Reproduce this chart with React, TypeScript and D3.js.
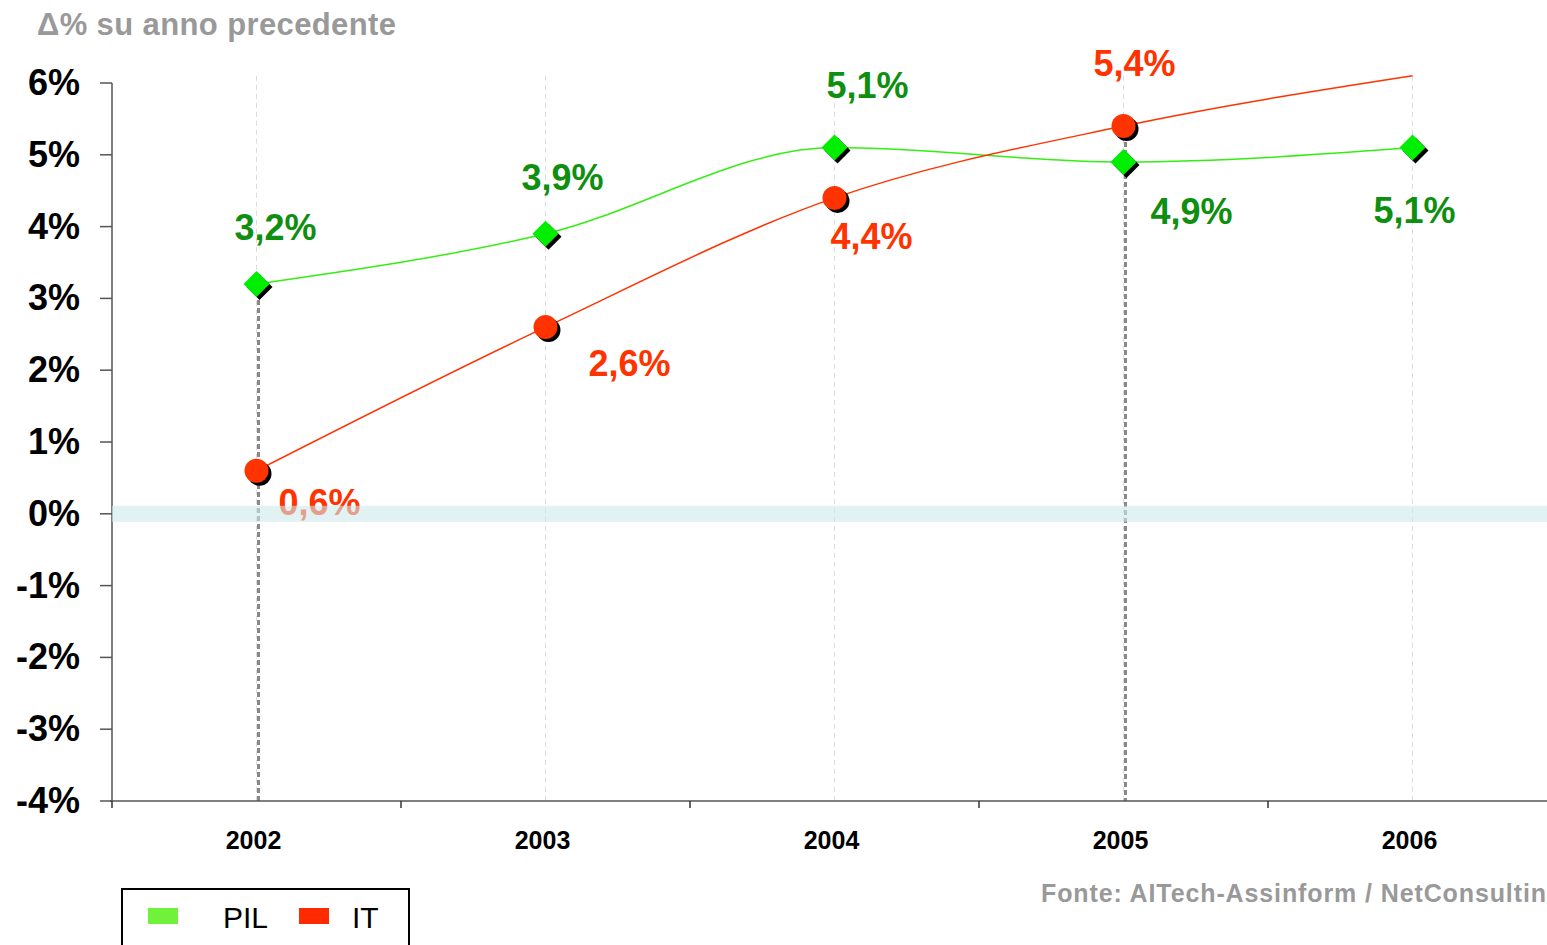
import React from "react";
import * as d3 from "d3";

// data
const years = ["2002", "2003", "2004", "2005", "2006"];
const pilValues = [3.2, 3.9, 5.1, 4.9, 5.1];
const itValues = [0.6, 2.6, 4.4, 5.4, 6.1];
const itShown = [true, true, true, true, false]; // 2006 IT has no marker / label
const yTicks = [6, 5, 4, 3, 2, 1, 0, -1, -2, -3, -4];
const dropYears = ["2002", "2005"];

// label offsets from the point (pixels)
const pilLabelOffsets = [[19, -44], [17, -44], [33, -50], [68, 62], [2, 75]];
const itLabelOffsets = [[63, 44], [84, 49], [37, 51], [11, -50], [0, 0]];

const W = 1547;
const H = 945;
const FONT = "'Liberation Sans', Arial, Helvetica, sans-serif";
const GREEN_LINE = "#33ee11";
const GREEN_MARK = "#00ee00";
const GREEN_TEXT = "#0f8f0f";
const RED = "#ff3300";

const fmt = (v: number) => v.toFixed(1).replace(".", ",") + "%";

export default function App() {
  const x = d3.scaleBand().domain(years).range([112, 1557]);
  const y = d3.scaleLinear().domain([-4, 6]).range([801, 83]);
  const cx = (yr: string) => (x(yr) as number) + x.bandwidth() / 2;

  const line = d3
    .line<number>()
    .x((_, i) => cx(years[i]))
    .y((d) => y(d))
    .curve(d3.curveMonotoneX);

  const diamond = (px: number, py: number, r: number) =>
    `M${px},${py - r}L${px + r},${py}L${px},${py + r}L${px - r},${py}Z`;

  return (
    <svg
      width={W}
      height={H}
      style={{ position: "absolute", left: 0, top: 0, fontFamily: FONT }}
    >
      <rect width={W} height={H} fill="#fff" />

      {/* title */}
      <text x={37} y={35} fontSize={31} fontWeight="bold" fill="#999" textLength={359}>
        Δ% su anno precedente
      </text>

      {/* light vertical gridlines */}
      {years.map((yr) => (
        <line
          key={"g" + yr}
          x1={cx(yr)}
          x2={cx(yr)}
          y1={y(6.1)}
          y2={801}
          stroke="#dcdcdc"
          strokeDasharray="5 4"
          strokeWidth={1}
        />
      ))}

      {/* drop lines */}
      {dropYears.map((yr) => {
        const i = years.indexOf(yr);
        const top = Math.max(pilValues[i], itValues[i]);
        return (
          <line
            key={"d" + yr}
            x1={cx(yr) + 2}
            x2={cx(yr) + 2}
            y1={y(top)}
            y2={801}
            stroke="#888"
            strokeWidth={3}
            strokeDasharray="5 3"
          />
        );
      })}

      {/* y axis */}
      <line x1={112} x2={112} y1={83} y2={801} stroke="#555" strokeWidth={1.5} />
      {yTicks.map((t) => (
        <g key={"y" + t}>
          <line x1={100} x2={112} y1={y(t)} y2={y(t)} stroke="#555" strokeWidth={1.5} />
          <text
            x={80}
            y={y(t) + 12}
            textAnchor="end"
            fontSize={36}
            fontWeight="bold"
            fill="#000"
          >
            {t + "%"}
          </text>
        </g>
      ))}

      {/* x axis */}
      <line x1={110} x2={W} y1={801} y2={801} stroke="#555" strokeWidth={1.5} />
      {years.map((yr) => (
        <g key={"x" + yr}>
          <line
            x1={x(yr) as number}
            x2={x(yr) as number}
            y1={801}
            y2={808}
            stroke="#333"
            strokeWidth={1.5}
          />
          <text
            x={cx(yr) - 3}
            y={849}
            textAnchor="middle"
            fontSize={25}
            fontWeight="bold"
            fill="#000"
          >
            {yr}
          </text>
        </g>
      ))}

      {/* lines */}
      <path d={line(pilValues) || ""} fill="none" stroke={GREEN_LINE} strokeWidth={1.5} />
      <path d={line(itValues) || ""} fill="none" stroke={RED} strokeWidth={1.5} />

      {/* PIL markers */}
      {pilValues.map((v, i) => {
        const px = cx(years[i]);
        const py = y(v);
        return (
          <g key={"pm" + i}>
            <path d={diamond(px + 3, py + 3, 13)} fill="#000" />
            <path d={diamond(px, py, 13)} fill={GREEN_MARK} />
          </g>
        );
      })}

      {/* IT markers */}
      {itValues.map((v, i) =>
        itShown[i] ? (
          <g key={"im" + i}>
            <circle cx={cx(years[i]) + 3} cy={y(v) + 3} r={12} fill="#000" />
            <circle cx={cx(years[i])} cy={y(v)} r={12} fill={RED} />
          </g>
        ) : null
      )}

      {/* value labels */}
      {pilValues.map((v, i) => (
        <text
          key={"pl" + i}
          x={cx(years[i]) + pilLabelOffsets[i][0]}
          y={y(v) + pilLabelOffsets[i][1]}
          textAnchor="middle"
          fontSize={36}
          fontWeight="bold"
          fill={GREEN_TEXT}
        >
          {fmt(v)}
        </text>
      ))}
      {itValues.map((v, i) =>
        itShown[i] ? (
          <text
            key={"il" + i}
            x={cx(years[i]) + itLabelOffsets[i][0]}
            y={y(v) + itLabelOffsets[i][1]}
            textAnchor="middle"
            fontSize={36}
            fontWeight="bold"
            fill={RED}
          >
            {fmt(v)}
          </text>
        ) : null
      )}

      {/* zero band */}
      <rect
        x={112}
        y={y(0) - 8}
        width={W - 112}
        height={16}
        fill="#cfe7e9"
        opacity={0.6}
      />

      {/* source */}
      <text x={1041} y={902} fontSize={25} fontWeight="bold" fill="#999" textLength={505}>
        Fonte: AITech-Assinform / NetConsultin
      </text>

      {/* legend */}
      <rect x={122} y={889} width={287} height={70} fill="none" stroke="#000" strokeWidth={2} />
      <rect x={148} y={908} width={30} height={16} fill="#70f23a" />
      <text x={223} y={928} fontSize={30} fill="#000">
        PIL
      </text>
      <rect x={299} y={908} width={30} height={16} fill="#ff2a00" />
      <text x={352} y={928} fontSize={30} fill="#000">
        IT
      </text>
    </svg>
  );
}
